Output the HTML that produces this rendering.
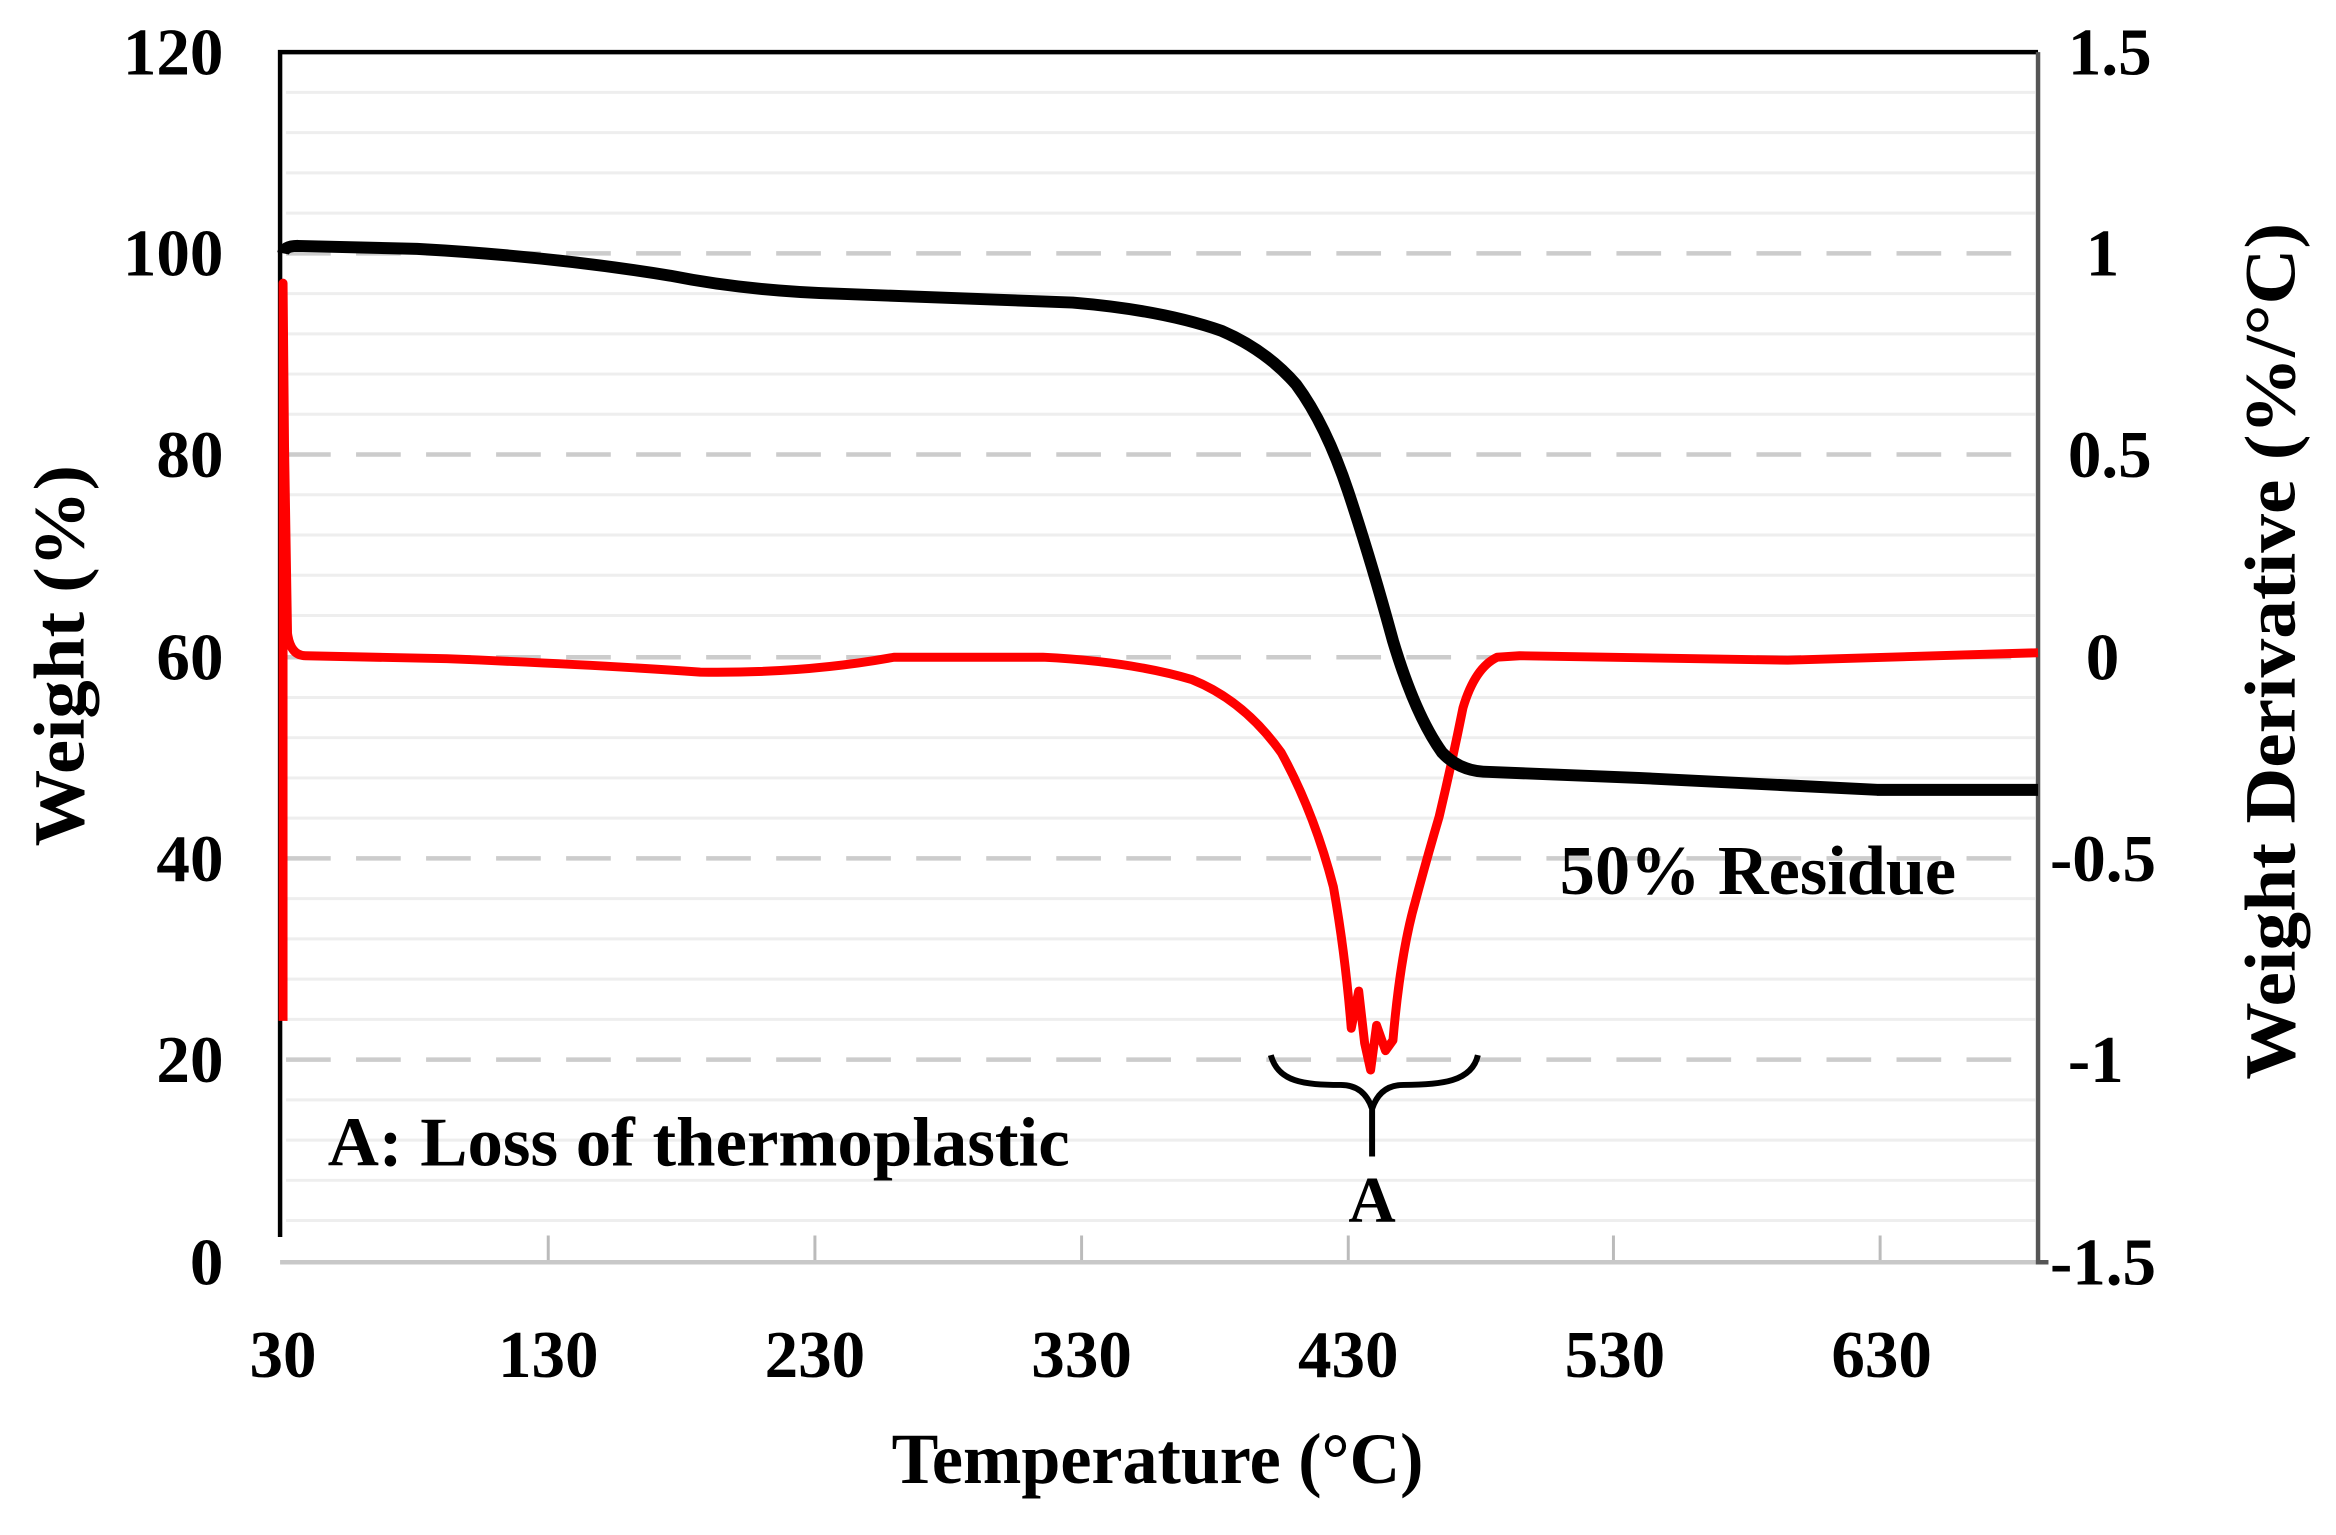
<!DOCTYPE html>
<html><head><meta charset="utf-8"><style>html,body{margin:0;padding:0;background:#fff}svg{display:block}</style></head>
<body>
<svg width="2336" height="1535" viewBox="0 0 1568 1030" preserveAspectRatio="none" xmlns="http://www.w3.org/2000/svg" font-family="Liberation Serif, serif" font-weight="bold">
<rect width="1568" height="1030" fill="#fff"/>
<g stroke="#eeeeee" stroke-width="2">
<path d="M192 62H1366M192 89H1366M192 116H1366M192 143H1366M192 197H1366M192 224H1366M192 251H1366M192 278H1366M192 332H1366M192 359H1366M192 386H1366M192 413H1366M192 468H1366M192 495H1366M192 522H1366M192 549H1366M192 603H1366M192 630H1366M192 657H1366M192 684H1366M192 738H1366M192 765H1366M192 792H1366M192 819H1366"/>
</g>
<g stroke="#cccccc" stroke-width="3" stroke-dasharray="30 17">
<path d="M192 170H1366M192 305H1366M192 441H1366M192 576H1366M192 711H1366"/>
</g>
<g stroke="#bbb" stroke-width="2"><path d="M368 847V829M547 847V829M726 847V829M905 847V829M1083 847V829M1262 847V829"/></g>
<path d="M188 847H1368" stroke="#c8c8c8" stroke-width="3"/>
<path d="M188 830V35H1368" stroke="#000" stroke-width="3" fill="none"/>
<path d="M1368 35V847H1375" stroke="#555" stroke-width="3" fill="none"/>
<path fill="none" stroke="#f00" stroke-width="6" stroke-linejoin="round" d="M190 685V190L191 300L193 425Q195 440 205 440L300 442Q400 446 470 451Q540 452 600 441L700 441Q760 444 800 456Q835 470 860 505Q882 545 895 595Q903 640 907 690L912 665L916 700L920 718L924 688L930 705L935 698Q940 640 950 605Q958 575 966 548Q975 510 982 475Q990 448 1005 441L1020 440L1200 443L1368 438"/>
<path fill="none" stroke="#000" stroke-width="8" stroke-linejoin="round" d="M190 170Q191 165 200 165L280 167Q370 172 450 185Q500 195 560 197L720 203Q780 208 820 222Q850 235 870 258Q890 285 905 330Q920 375 935 430Q950 480 968 505Q980 518 1000 518L1100 522L1200 527L1260 530L1368 530"/>
<path d="M853 708C858 726 875 728 900 728C912 728 918 735 921 744C924 735 930 728 942 728C967 728 988 726 992 708M921 744V776" stroke="#000" stroke-width="4" fill="none"/>
<g font-size="45" fill="#000" text-anchor="end">
<text x="150" y="50">120</text><text x="150" y="185">100</text><text x="150" y="320">80</text><text x="150" y="456">60</text><text x="150" y="591">40</text><text x="150" y="726">20</text><text x="150" y="862">0</text>
</g>
<g font-size="45" fill="#000" text-anchor="start">
<text x="1388" y="50">1.5</text><text x="1400" y="185">1</text><text x="1388" y="320">0.5</text><text x="1400" y="456">0</text><text x="1376" y="591">-0.5</text><text x="1388" y="726">-1</text><text x="1376" y="862">-1.5</text>
</g>
<g font-size="45" fill="#000" text-anchor="middle">
<text x="190" y="924">30</text><text x="368" y="924">130</text><text x="547" y="924">230</text><text x="726" y="924">330</text><text x="905" y="924">430</text><text x="1084" y="924">530</text><text x="1263" y="924">630</text>
<text x="777" y="995" font-size="48" textLength="357" lengthAdjust="spacingAndGlyphs">Temperature  (°C)</text>
<text x="921" y="820" font-size="44">A</text>
<text transform="translate(56 440) rotate(-90)" font-size="48" textLength="256" lengthAdjust="spacingAndGlyphs">Weight  (%)</text>
<text transform="translate(1540 437) rotate(-90)" font-size="48" textLength="575" lengthAdjust="spacingAndGlyphs">Weight  Derivative  (%/°C)</text>
</g>
<text x="220" y="782" font-size="47" fill="#000" textLength="498" lengthAdjust="spacingAndGlyphs">A: Loss of thermoplastic</text>
<text x="1047" y="600" font-size="47" fill="#000" textLength="266" lengthAdjust="spacingAndGlyphs">50% Residue</text>
</svg>
</body></html>
